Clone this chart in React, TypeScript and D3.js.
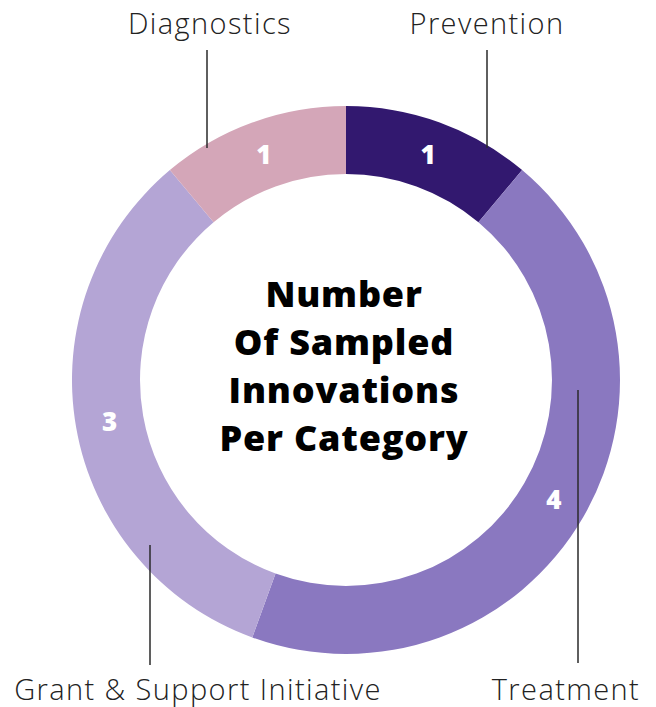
import * as d3 from "d3";
import { useEffect, useRef } from "react";

const WIDTH = 656;
const HEIGHT = 707;

const categories = ["Prevention", "Treatment", "Grant & Support Initiative", "Diagnostics"];
const counts = [1, 4, 3, 1];
const colors = ["#32186f", "#8a78c0", "#b4a5d5", "#d4a6b8"];
const titleLines = ["Number", "Of Sampled", "Innovations", "Per Category"];

// leader line + label placement per category: [lineX, lineY1, lineY2, labelX, labelY]
const callouts: [number, number, number, number, number][] = [
    [487, 50, 148, 487, 34],
    [578, 390, 663, 566, 700],
    [150, 545, 665, 198, 700],
    [207, 50, 148, 210, 34],
];

export default function App() {
    const svgRef = useRef<SVGSVGElement | null>(null);

    useEffect(() => {
        if (!svgRef.current) return;
        const svg = d3.select(svgRef.current);
        svg.selectAll("*").remove();

        const cx = 346;
        const cy = 380;
        const outer = 274;
        const inner = 206;

        const data = categories.map((name, i) => ({ name, value: counts[i], color: colors[i] }));
        const pie = d3
            .pie<(typeof data)[number]>()
            .value((d) => d.value)
            .sort(null);
        const arc = d3.arc<d3.PieArcDatum<(typeof data)[number]>>().innerRadius(inner).outerRadius(outer);
        const labelArc = d3.arc<d3.PieArcDatum<(typeof data)[number]>>().innerRadius(240).outerRadius(240);

        const g = svg.append("g").attr("transform", `translate(${cx},${cy})`);
        const arcs = pie(data);

        g.selectAll("path")
            .data(arcs)
            .enter()
            .append("path")
            .attr("d", arc)
            .attr("fill", (d) => d.data.color);

        g.selectAll("text.value")
            .data(arcs)
            .enter()
            .append("text")
            .attr("class", "value")
            .attr("transform", (d) => `translate(${labelArc.centroid(d)})`)
            .attr("text-anchor", "middle")
            .attr("dy", "0.36em")
            .attr("fill", "#ffffff")
            .attr("font-family", "'Open Sans', Lato, sans-serif")
            .attr("font-weight", 800)
            .attr("font-size", 26)
            .text((d) => d.data.value);

        const title = svg
            .append("text")
            .attr("text-anchor", "middle")
            .attr("font-family", "'Open Sans', Lato, sans-serif")
            .attr("font-weight", 800)
            .attr("font-size", 36)
            .attr("letter-spacing", 0.8)
            .attr("fill", "#000000");
        titleLines.forEach((line, i) => {
            title
                .append("tspan")
                .attr("x", cx - 2)
                .attr("y", 307 + i * 48)
                .text(line);
        });

        const labels = svg.append("g");
        categories.forEach((name, i) => {
            const [lx, y1, y2, tx, ty] = callouts[i];
            labels
                .append("line")
                .attr("x1", lx)
                .attr("x2", lx)
                .attr("y1", y1)
                .attr("y2", y2)
                .attr("stroke", "#2a2a2a")
                .attr("stroke-width", 1.5);
            labels
                .append("text")
                .attr("x", tx)
                .attr("y", ty)
                .attr("text-anchor", "middle")
                .attr("font-family", "'Open Sans', Lato, sans-serif")
                .attr("font-weight", 300)
                .attr("font-size", 29)
                .attr("letter-spacing", 1.4)
                .attr("fill", "#222222")
                .text(name);
        });
    }, []);

    return (
        <div style={{ position: "absolute", left: 0, top: 0, width: WIDTH, height: HEIGHT, background: "#fff" }}>
            <svg ref={svgRef} width={WIDTH} height={HEIGHT} />
        </div>
    );
}
